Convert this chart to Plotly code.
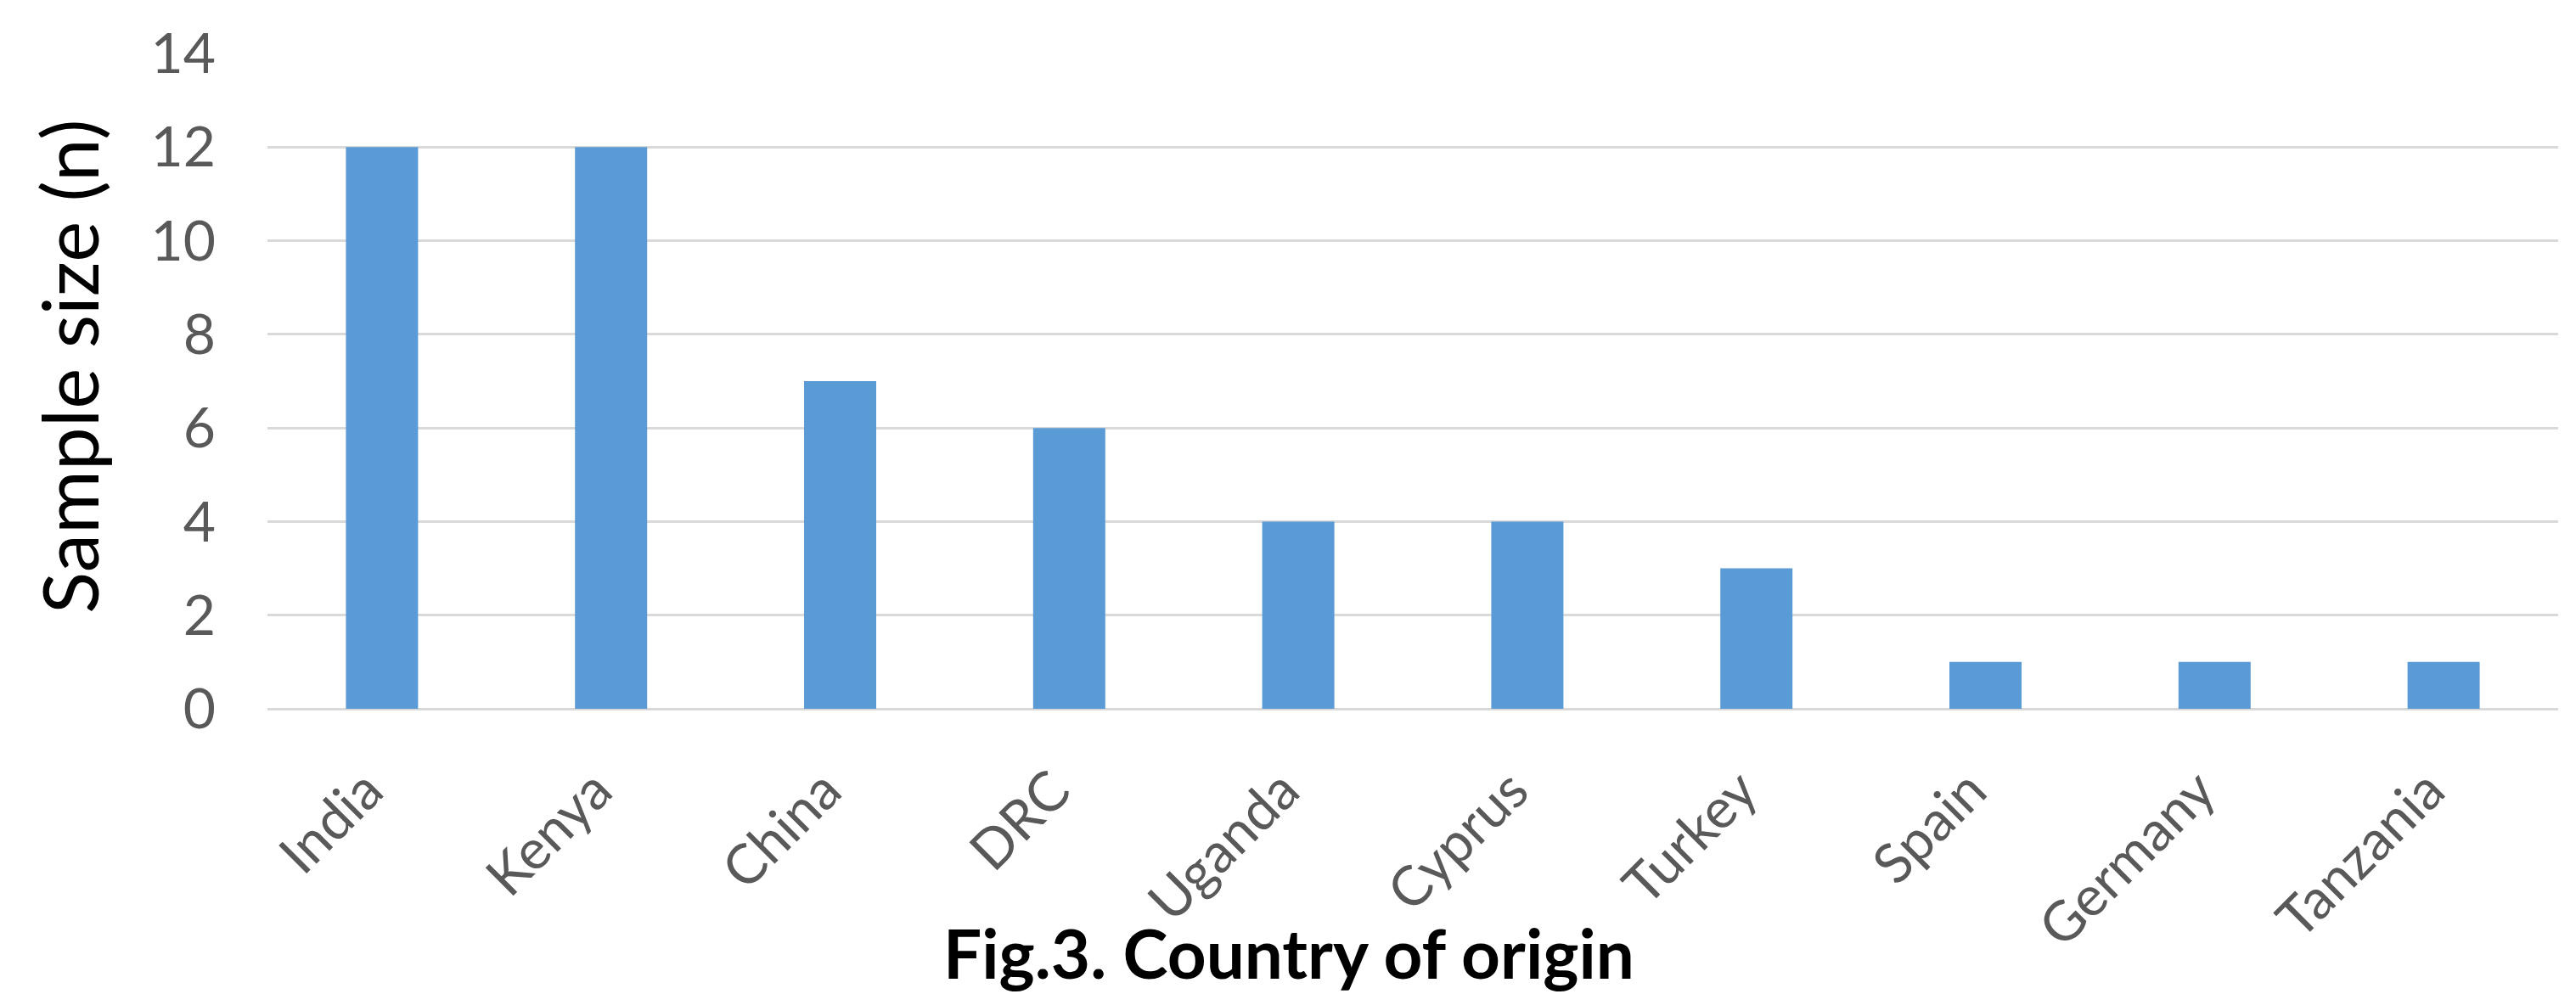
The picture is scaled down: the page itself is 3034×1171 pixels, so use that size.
import plotly.graph_objects as go

# Sample counts by country of origin
countries = ["India", "Kenya", "China", "DRC", "Uganda", "Cyprus",
             "Turkey", "Spain", "Germany", "Tanzania"]
sample_sizes = [12, 12, 7, 6, 4, 4, 3, 1, 1, 1]
y_ticks = [0, 2, 4, 6, 8, 10, 12, 14]

W, H = 3034, 1171
L, R, T, B = 315, 21, 63, 336
plot_w = W - L - R
plot_h = H - T - B

FONT = "Lato"
TICK_GRAY = "#595959"
GRID = "#D9D9D9"

fig = go.Figure(
    go.Bar(
        x=countries,
        y=sample_sizes,
        marker=dict(color="#5B9BD5", line=dict(width=0)),
        width=0.315,
    )
)

fig.update_layout(
    width=W,
    height=H,
    margin=dict(l=L, r=R, t=T, b=B, autoexpand=False),
    paper_bgcolor="white",
    plot_bgcolor="white",
    showlegend=False,
    font=dict(family=FONT, color=TICK_GRAY),
    xaxis=dict(
        tickangle=-45,
        tickfont=dict(size=65, color=TICK_GRAY, family=FONT),
        showgrid=False,
        showline=False,
        zeroline=False,
        ticks="",
        ticklabelstandoff=44,
        ticklabelshift=-18,
    ),
    yaxis=dict(
        range=[0, 14],
        tickvals=y_ticks,
        tickfont=dict(size=66, color=TICK_GRAY, family=FONT),
        showgrid=True,
        gridcolor=GRID,
        gridwidth=2.5,
        zeroline=True,
        zerolinecolor=GRID,
        zerolinewidth=2.5,
        showline=False,
        ticks="",
        ticklabelstandoff=60,
    ),
    annotations=[
        dict(
            text="Sample size (n)",
            xref="paper", yref="paper",
            x=(80 - L) / plot_w, y=(H - B - 432) / plot_h,
            xanchor="center", yanchor="middle",
            textangle=-90, showarrow=False,
            font=dict(size=91, color="black", family=FONT),
        ),
        dict(
            text="<b>Fig.3. Country of origin</b>",
            xref="paper", yref="paper",
            x=(1518 - L) / plot_w, y=(H - B - 1122) / plot_h,
            xanchor="center", yanchor="middle",
            showarrow=False,
            font=dict(size=80, color="black", family=FONT),
        ),
    ],
)

fig.write_html("out.html")
